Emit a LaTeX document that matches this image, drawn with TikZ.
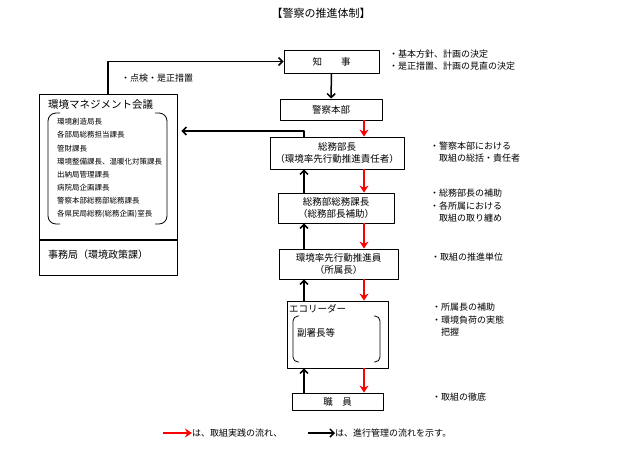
\documentclass[tikz,border=0pt]{standalone}
\usepackage{fontspec}
\setmainfont{Noto Sans CJK JP}
\usetikzlibrary{arrows.meta}

\begin{document}
\begin{tikzpicture}[x=1pt,y=-1pt, line join=round,
	box/.style={draw, line width=0.8pt, inner sep=0pt, align=center, font=\fontsize{9.5}{12}\selectfont},
	note/.style={inner sep=0pt, anchor=west, align=left, font=\fontsize{9}{12.5}\selectfont},
	redarr/.style={red, line width=1.8pt, -{Stealth[length=7pt,width=9pt]}},
	blkarr/.style={black, line width=1.5pt, -{Straight Barb[length=4pt,width=8pt]}}]
	\useasboundingbox (0,0) rectangle (643,450);
	\node[inner sep=0pt, font=\fontsize{11}{13}\selectfont] (title) at (321,13) {【警察の推進体制】};
	\node[box, minimum width=95pt, minimum height=23pt] (chiji) at (331.5,61.5) {知　　事};
	\node[box, minimum width=102pt, minimum height=21pt] (honbu) at (331,109.5) {警察本部};
	\node[box, minimum width=134pt, minimum height=32pt] (bucho) at (337,153) {総務部長\\（環境率先行動推進責任者）};
	\node[box, minimum width=116pt, minimum height=30pt] (kacho) at (336,208) {総務部総務課長\\（総務部長補助）};
	\node[box, minimum width=119pt, minimum height=30pt] (suishin) at (338.5,264) {環境率先行動推進員\\（所属長）};
	\node[box, minimum width=101pt, minimum height=67pt] (eco) at (337.5,334.5) {};
	\node[box, minimum width=91pt, minimum height=17pt] (shokuin) at (337.5,401.5) {職　員};
	\node[draw, line width=0.8pt, minimum width=138pt, minimum height=181pt] (kaigi) at (108,184.5) {};
	\draw[line width=1.6pt] (kaigi.west |- 0,240) -- (kaigi.east |- 0,240);
	\node[note, font=\fontsize{10.5}{12}\selectfont] (kname) at (48,105) {環境マネジメント会議};
	\foreach \t [count=\i from 0] in {環境創造局長, 各部局総務担当課長, 管財課長, 環境整備課長、温暖化対策課長, 出納局管理課長, 病院局企画課長, 警察本部総務部総務課長, 各県民局総務(総務企画)室長}
		\node[note, font=\fontsize{7.5}{9}\selectfont] (mem\i) at (57,122+13.1*\i) {\t};
	\draw[line width=0.8pt, rounded corners=8pt] (60,113) -- (48,113) -- (48,224) -- (60,224);
	\draw[line width=0.8pt, rounded corners=8pt] (155,113) -- (167,113) -- (167,224) -- (155,224);
	\node[note, font=\fontsize{10}{12}\selectfont] (jimu) at (48,255) {事務局（環境政策課）};
	\node[note, font=\fontsize{9.5}{12}\selectfont] (econame) at (289,309) {エコリーダー};
	\node[note, font=\fontsize{9.5}{12}\selectfont] (fuku) at (297,333) {副署長等};
	\draw[line width=0.8pt, rounded corners=5pt] (299,316) -- (293,316) -- (293,362) -- (299,362);
	\draw[line width=0.8pt, rounded corners=5pt] (374,316) -- (380,316) -- (380,362) -- (374,362);
	\node[note] (n1) at (389,60) {・基本方針、計画の決定\\・是正措置、計画の見直の決定};
	\node[note] (n2) at (430,152) {・警察本部における\\　取組の総括・責任者};
	\node[note] (n3) at (430,206) {・総務部長の補助\\・各所属における\\　取組の取り纏め};
	\node[note] (n4) at (431,257) {・取組の推進単位};
	\node[note] (n5) at (432,320) {・所属長の補助\\・環境負荷の実態\\　把握};
	\node[note] (n6) at (432,397) {・取組の徹底};
	\node[note] (tenken) at (121,78) {・点検・是正措置};
	\coordinate (xr) at (364,0);
	\coordinate (xb) at (304,0);
	\coordinate (turn) at (304,131);
	\draw[blkarr] (chiji) -- (honbu);
	\draw[blkarr] (kaigi.north) |- (chiji.west);
	\draw[blkarr, shorten >=4pt] (bucho.north -| turn) -- (turn) -- (turn -| kaigi.east);
	\draw[redarr] (honbu.south -| xr) -- (bucho.north -| xr);
	\draw[redarr] (bucho.south -| xr) -- (kacho.north -| xr);
	\draw[redarr] (kacho.south -| xr) -- (suishin.north -| xr);
	\draw[redarr] (suishin.south -| xr) -- (eco.north -| xr);
	\draw[redarr] (eco.south -| xr) -- (shokuin.north -| xr);
	\draw[blkarr] (kacho.north -| xb) -- (bucho.south -| xb);
	\draw[blkarr] (suishin.north -| xb) -- (kacho.south -| xb);
	\draw[blkarr] (eco.north -| xb) -- (suishin.south -| xb);
	\draw[blkarr] (shokuin.north -| xb) -- (eco.south -| xb);
	\node[note] (lred) at (192,433) {は、取組実践の流れ、};
	\node[note] (lblk) at (335,433) {は、進行管理の流れを示す。};
	\coordinate (lr) at (163,433);
	\coordinate (lb) at (308,433);
	\draw[redarr] (lr) -- (lred.west);
	\draw[blkarr] (lb) -- (lblk.west);
\end{tikzpicture}
\end{document}
